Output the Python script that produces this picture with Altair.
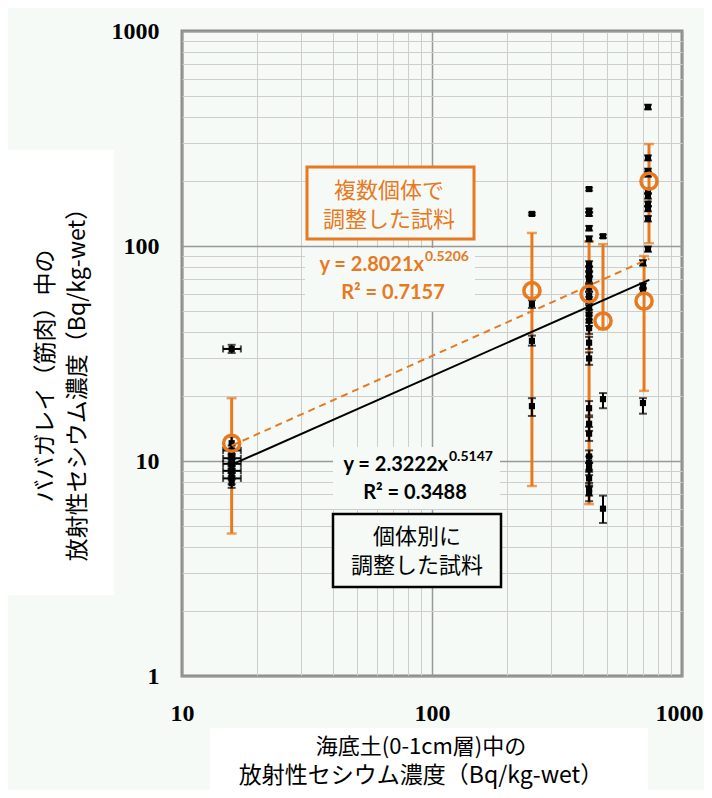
import altair as alt
import pandas as pd

BG = "#F5FAF7"
ORANGE = "#E8791E"

# ---- individual samples (black squares) ----
ind_x = [15.8] * 12 + [251] * 4 + [425] * 27 + [483] * 3 + [731] * 10 + [698] * 4
ind_y = [33.2, 12.1, 11.2, 10.7, 10.3, 10.0, 9.7, 9.3, 9.0, 8.7, 8.3, 7.9,
         141, 53.7, 36.2, 18.0,
         184, 146, 141, 121, 108, 82.5, 78, 74, 70, 64, 58.5, 55.5, 51.5, 48, 45, 41.5,
         35.5, 30, 17.6, 14.9, 13.4, 10.5, 9.8, 9.2, 8.3, 7.4, 7.1,
         111, 19.4, 6.0,
         443, 257, 223, 216, 180, 171, 157, 149, 134, 96.8,
         83.4, 65, 62, 18.6]
ind_lo = [31.8, 11.4, 10.7, 10.2, 9.8, 9.5, 9.2, 8.8, 8.5, 8.2, 7.8, 7.5,
          139, 51.5, 34.4, 16.2,
          181, 143, 138, 118, 105, 80, 75.5, 71.5, 67.5, 61.5, 56, 53, 49, 45.5, 42.5, 39,
          33.2, 28, 16.3, 13.8, 12.4, 9.8, 9.1, 8.6, 7.7, 6.9, 6.5,
          109, 17.6, 5.15,
          432, 250, 217, 210, 175, 166, 153, 145, 130, 94,
          81, 63, 60, 16.6]
ind_hi = [34.7, 13.0, 11.8, 11.3, 10.8, 10.5, 10.2, 9.8, 9.5, 9.2, 8.8, 8.3,
          143, 56.0, 38.3, 19.6,
          187, 149, 144, 124, 111, 85, 80.5, 76.5, 72.5, 66.5, 61, 58, 54, 50.5, 47.5, 44,
          37.8, 32, 19.0, 16.0, 14.4, 11.2, 10.5, 9.8, 8.9, 7.9, 7.6,
          113, 20.7, 6.9,
          454, 264, 229, 222, 185, 176, 161, 153, 138, 99.5,
          86, 67, 64, 19.6]

# horizontal error bars (left column)
hx_y = [33.2, 11.2, 10.3, 9.7, 9.0, 8.3]
hx_c = [15.8] * 6
hx_lo = [14.6] * 6
hx_hi = [17.2] * 6

# ---- composite samples (orange circles) ----
comp_x = [15.8, 251, 425, 483, 705, 738]
comp_y = [12.1, 62, 59.8, 44.8, 55.5, 200]
comp_lo = [4.6, 7.65, 6.3, 41, 21.2, 103]
comp_hi = [19.6, 115, 105, 102, 89.8, 298]

# ---- power-law fits ----
fit_x = [15.8, 740]
fit_black = (2.3222, 0.5147)
fit_orange = (2.8021, 0.5206)

# tick values for log grid
x_ticks = [m * 10 ** e for e in (1, 2) for m in range(1, 10)] + [1000]
y_ticks = [m * 10 ** e for e in (0, 1, 2) for m in range(1, 10)] + [1000]
major = "indexof([1,10,100,1000], datum.value) >= 0"

ind = pd.DataFrame({"x": ind_x, "y": ind_y, "lo": ind_lo, "hi": ind_hi})
hx = pd.DataFrame({"x": hx_c, "y": hx_y, "lo": hx_lo, "hi": hx_hi})
comp = pd.DataFrame({"x": comp_x, "y": comp_y, "lo": comp_lo, "hi": comp_hi})

xscale = alt.Scale(type="log", domain=[10, 1000], nice=False)
yscale = alt.Scale(type="log", domain=[1, 1000], nice=False)

def mk_axis(vals, orient):
    extra = {}
    if orient == "x":
        extra["labelOffset"] = {"condition": {"test": "datum.value == 1000", "value": -3}, "value": 0}
    return alt.Axis(
        values=vals, title=None, ticks=False, tickSize=0, domain=False,
        labelExpr=major + " ? '' + datum.value : ''",
        labelFont="Liberation Serif", labelFontWeight="bold", labelFontSize=24,
        labelColor="black", labelOverlap=False, labelFlush=False,
        labelPadding=25 if orient == "x" else 23,
        grid=True,
        gridColor={"condition": {"test": major, "value": "#999999"}, "value": "#cdcdcd"},
        gridWidth={"condition": {"test": major, "value": 1.5}, "value": 1},
        **extra,
    )

xaxis = mk_axis(x_ticks, "x")
yaxis = mk_axis(y_ticks, "y")

def X(f):
    return alt.X(f, type="quantitative", scale=xscale, axis=xaxis)

def Y(f):
    return alt.Y(f, type="quantitative", scale=yscale, axis=yaxis)

one = pd.DataFrame({"k": [0]})

def box(x1, x2, y1, y2, **kw):
    return alt.Chart(one).mark_rect(**kw).encode(
        x=alt.value(x1), x2=alt.value(x2), y=alt.value(y1), y2=alt.value(y2))

def label(text, px, py, **kw):
    return alt.Chart(pd.DataFrame({"t": [text]})).mark_text(**kw).encode(
        x=alt.value(px), y=alt.value(py), text="t:N")

# base layer carrying the axes
base_grid = alt.Chart(comp).mark_point(opacity=0).encode(x=X("x"), y=Y("y"))

# background white boxes behind titles
ytitle_bg = box(-174, -68, 119, 564, fill="white")
xtitle_bg = box(28, 466, 697, 775, fill="white")

eq_o_bg = box(123, 293, 217, 280, fill=BG)
eq_b_bg = box(151, 318, 416, 478, fill=BG)

# orange error bars
o_rule = alt.Chart(comp).mark_rule(color=ORANGE, strokeWidth=3).encode(
    x=X("x"), y=Y("lo"), y2="hi")
o_cap_lo = alt.Chart(comp).mark_tick(color=ORANGE, orient="horizontal", size=10, thickness=2.5).encode(
    x=X("x"), y=Y("lo"))
o_cap_hi = alt.Chart(comp).mark_tick(color=ORANGE, orient="horizontal", size=10, thickness=2.5).encode(
    x=X("x"), y=Y("hi"))

# black error bars
b_rule = alt.Chart(ind).mark_rule(color="black", strokeWidth=2).encode(
    x=X("x"), y=Y("lo"), y2="hi")
b_cap_lo = alt.Chart(ind).mark_tick(color="black", orient="horizontal", size=8, thickness=2).encode(
    x=X("x"), y=Y("lo"))
b_cap_hi = alt.Chart(ind).mark_tick(color="black", orient="horizontal", size=8, thickness=2).encode(
    x=X("x"), y=Y("hi"))
h_rule = alt.Chart(hx).mark_rule(color="black", strokeWidth=2).encode(
    x=X("lo"), x2="hi", y=Y("y"))
h_cap_lo = alt.Chart(hx).mark_tick(color="black", orient="vertical", size=7, thickness=2).encode(
    x=X("lo"), y=Y("y"))
h_cap_hi = alt.Chart(hx).mark_tick(color="black", orient="vertical", size=7, thickness=2).encode(
    x=X("hi"), y=Y("y"))

b_pts = alt.Chart(ind).mark_point(shape="square", filled=True, size=38, color="black", opacity=1).encode(
    x=X("x"), y=Y("y"))

def fit_line(coef, **kw):
    df = pd.DataFrame({"x": fit_x, "a": [coef[0]] * 2, "b": [coef[1]] * 2})
    return alt.Chart(df).transform_calculate(
        yf="datum.a * pow(datum.x, datum.b)"
    ).mark_line(**kw).encode(x=X("x"), y=Y("yf"))

line_b = fit_line(fit_black, color="black", strokeWidth=2)
line_o = fit_line(fit_orange, color=ORANGE, strokeWidth=2, strokeDash=[7, 5])

o_pts = alt.Chart(comp).mark_point(shape="circle", filled=False, size=260, strokeWidth=3.5,
                                   color=ORANGE, opacity=1).encode(x=X("x"), y=Y("y"))

# annotation boxes and text
box_o = box(125, 292, 136, 208, fill=BG, stroke=ORANGE, strokeWidth=3)
box_b = box(151, 319, 483, 556, fill=BG, stroke="black", strokeWidth=2.5)

jp = "Noto Sans CJK JP"
eq_font = "Lato"
annots = [
    label("複数個体で", 207, 160, font=jp, fontSize=22, color=ORANGE, align="center", baseline="middle"),
    label("調整した試料", 207, 189, font=jp, fontSize=22, color=ORANGE, align="center", baseline="middle"),
    label("個体別に", 235, 506, font=jp, fontSize=22, color="black", align="center", baseline="middle"),
    label("調整した試料", 235, 535, font=jp, fontSize=22, color="black", align="center", baseline="middle"),
    label("y = 2.8021x", 242, 234, font=eq_font, fontWeight="bold", fontSize=20, color=ORANGE,
          align="right", baseline="middle"),
    label("0.5206", 243, 226, font=eq_font, fontWeight="bold", fontSize=14, color=ORANGE,
          align="left", baseline="middle"),
    label("R² = 0.7157", 211, 262, font=eq_font, fontWeight="bold", fontSize=20, color=ORANGE,
          align="center", baseline="middle"),
    label("y = 2.3222x", 266, 434, font=eq_font, fontWeight="bold", fontSize=20, color="black",
          align="right", baseline="middle"),
    label("0.5147", 267, 426, font=eq_font, fontWeight="bold", fontSize=14, color="black",
          align="left", baseline="middle"),
    label("R² = 0.3488", 233, 462, font=eq_font, fontWeight="bold", fontSize=20, color="black",
          align="center", baseline="middle"),
    # axis titles
    label("ババガレイ（筋肉）中の", -136, 345, font=jp, fontSize=23, color="black",
          align="center", baseline="middle", angle=270),
    label("放射性セシウム濃度（Bq/kg-wet）", -104, 348, font=jp, fontSize=23, color="black",
          align="center", baseline="middle", angle=270),
    label("海底土(0-1cm層)中の", 239, 716, font=jp, fontSize=22, color="black",
          align="center", baseline="middle"),
    label("放射性セシウム濃度（Bq/kg-wet）", 239, 745, font=jp, fontSize=23, color="black",
          align="center", baseline="middle"),
]

chart = alt.layer(
    base_grid, ytitle_bg, xtitle_bg, eq_o_bg, eq_b_bg,
    o_rule, o_cap_lo, o_cap_hi,
    b_rule, b_cap_lo, b_cap_hi, h_rule, h_cap_lo, h_cap_hi,
    b_pts, line_o, line_b, o_pts,
    box_o, box_b, *annots,
).resolve_scale(x="shared", y="shared").properties(
    width=500, height=645,
    padding={"left": 174, "top": 23, "right": 22, "bottom": 114},
    autosize=alt.AutoSizeParams(type="none"),
    background=BG,
).configure_view(
    stroke="#8a8a8a", strokeWidth=3, fill=BG
)

chart.save("out.html", embed_options={"renderer": "svg", "actions": False})
